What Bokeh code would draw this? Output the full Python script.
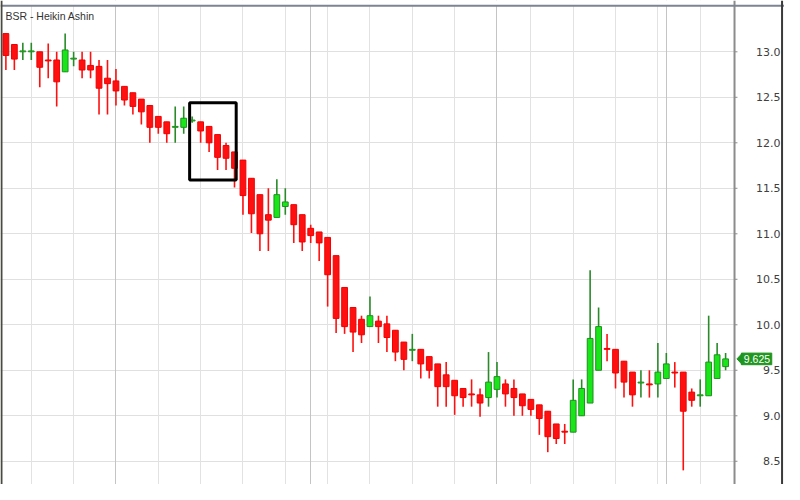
from bokeh.plotting import figure
from bokeh.models import (ColumnDataSource, FixedTicker, Grid, Label,
                          BoxAnnotation, Span, Range1d)
from bokeh.embed import file_html
from bokeh.resources import INLINE

# ---------------- data ----------------
title_text = "BSR - Heikin Ashin"

opens = [13.20, 13.08, 13.00, 13.00, 13.00, 12.91, 12.91, 12.78, 12.92, 12.91,
         12.85, 12.84, 12.71, 12.68, 12.62, 12.55, 12.48, 12.41, 12.29, 12.23,
         12.17, 12.17, 12.24, 12.23, 12.18, 12.09, 11.97, 11.90, 11.81, 11.61,
         11.43, 11.21, 11.18, 11.30, 11.32, 11.21, 11.06, 11.02, 10.96, 10.76,
         10.41, 10.19, 10.06, 9.98, 10.04, 10.01, 9.94, 9.81, 9.72, 9.73,
         9.65, 9.57, 9.45, 9.39, 9.30, 9.24, 9.23, 9.20, 9.29, 9.35,
         9.30, 9.24, 9.18, 9.12, 9.05, 8.91, 8.83, 8.82, 9.00, 9.14,
         9.50, 9.74, 9.73, 9.60, 9.48, 9.36, 9.35, 9.35, 9.41, 9.48,
         9.48, 9.26, 9.22, 9.22, 9.41, 9.54]
highs = [13.20, 13.08, 13.10, 13.10, 13.00, 13.09, 13.00, 13.20, 13.00, 13.00,
         13.00, 12.91, 12.91, 12.81, 12.62, 12.55, 12.48, 12.41, 12.29, 12.23,
         12.40, 12.40, 12.29, 12.23, 12.18, 12.09, 12.00, 11.90, 11.81, 11.61,
         11.43, 11.50, 11.60, 11.50, 11.32, 11.21, 11.10, 11.02, 10.96, 10.76,
         10.41, 10.19, 10.10, 10.31, 10.10, 10.10, 9.94, 9.81, 9.90, 9.73,
         9.65, 9.57, 9.59, 9.39, 9.30, 9.40, 9.30, 9.70, 9.59, 9.40,
         9.40, 9.24, 9.18, 9.12, 9.05, 8.91, 8.91, 9.40, 9.40, 10.60,
         10.19, 9.90, 9.73, 9.60, 9.48, 9.50, 9.50, 9.80, 9.69, 9.59,
         9.48, 9.30, 9.40, 10.10, 9.80, 9.69]
lows = [12.80, 12.80, 12.91, 12.91, 12.61, 12.71, 12.40, 12.78, 12.84, 12.71,
        12.71, 12.31, 12.31, 12.41, 12.41, 12.31, 12.20, 12.00, 12.10, 12.00,
        12.00, 12.10, 12.22, 12.00, 11.90, 11.70, 11.70, 11.51, 11.21, 11.01,
        10.81, 10.81, 11.18, 11.21, 10.90, 10.81, 10.90, 10.70, 10.20, 9.91,
        9.90, 9.70, 9.80, 9.98, 9.80, 9.70, 9.60, 9.50, 9.60, 9.41,
        9.41, 9.10, 9.10, 9.01, 9.10, 9.10, 8.99, 9.10, 9.20, 9.10,
        9.00, 9.00, 9.00, 8.79, 8.60, 8.69, 8.69, 8.82, 9.00, 9.14,
        9.50, 9.60, 9.30, 9.20, 9.10, 9.20, 9.20, 9.20, 9.41, 9.31,
        8.40, 9.10, 9.10, 9.22, 9.41, 9.50]
closes = [12.96, 12.92, 13.01, 13.01, 12.83, 12.90, 12.67, 13.02, 12.93, 12.80,
          12.80, 12.60, 12.65, 12.57, 12.47, 12.40, 12.34, 12.17, 12.17, 12.10,
          12.18, 12.27, 12.25, 12.13, 12.00, 11.84, 11.83, 11.72, 11.42, 11.22,
          11.00, 11.15, 11.43, 11.35, 11.10, 10.91, 10.98, 10.90, 10.55, 10.07,
          9.98, 9.92, 9.89, 10.10, 9.98, 9.86, 9.70, 9.62, 9.73, 9.57,
          9.50, 9.32, 9.32, 9.22, 9.20, 9.23, 9.14, 9.37, 9.43, 9.24,
          9.20, 9.11, 9.07, 8.97, 8.77, 8.75, 8.82, 9.17, 9.30, 9.85,
          9.98, 9.73, 9.47, 9.37, 9.23, 9.37, 9.34, 9.48, 9.57, 9.47,
          9.05, 9.17, 9.23, 9.59, 9.67, 9.625]

week_ticks = [3, 8, 13, 18, 23, 28, 33, 38, 43, 48, 53, 58, 62, 67, 72, 77, 82]
month_ticks = [13, 36, 58, 78]
price_ticks = [8.5, 9.0, 9.5, 10.0, 10.5, 11.0, 11.5, 12.0, 12.5, 13.0]
price_labels = ["8.5", "9.0", "9.5", "10.0", "10.5",
                "11.0", "11.5", "12.0", "12.5", "13.0"]
box_left, box_right, box_top, box_bottom = 21.7, 27.2, 12.44, 11.59
last_price = closes[-1]
last_label = "9.625"

# ---------------- layout helpers (reference-pixel geometry) ----------------
X0_PX, DX_PX = 5.5, 8.64      # centre of first candle, candle spacing
Y13_PX, DY_PX = 53.0, 94.0    # pixel row of 13.0, pixels per 1.0


def xi(px):
    return (px - X0_PX) / DX_PX


def yv(py):
    return 13.0 - (py - Y13_PX) / DY_PX


def dx(px):
    return px / DX_PX


def dy(px):
    return px / DY_PX


x_start, x_end = xi(0), xi(800)
y_start, y_end = yv(500), yv(0)
axis_x = xi(749)
label_right = xi(796)
top_border = yv(5.5)

RED_FILL, RED_LINE = "#ff1010", "#f00000"
GRN_FILL, GRN_LINE, GRN_WICK = "#19e619", "#1f8f1f", "#2a8a2a"
TAG = "#1f961f"
FONT = "Liberation Sans"
AXIS_FONT = "DejaVu Sans"

idx = list(range(len(opens)))
up = [c >= o for o, c in zip(opens, closes)]
src = ColumnDataSource(dict(
    x=idx, high=highs, low=lows,
    top=[max(o, c) for o, c in zip(opens, closes)],
    bottom=[min(o, c) for o, c in zip(opens, closes)],
    fill=[GRN_FILL if u else RED_FILL for u in up],
    line=[GRN_LINE if u else RED_LINE for u in up],
    wick=[GRN_WICK if u else RED_FILL for u in up],
))

W, H = 784, 484
p = figure(width=W, height=H,
           x_range=Range1d(x_start, x_end), y_range=Range1d(y_start, y_end),
           x_axis_location=None, y_axis_location=None,
           toolbar_location=None, output_backend="svg",
           min_border=0)
p.outline_line_color = None
p.background_fill_color = "white"
p.border_fill_color = "white"
p.xgrid.visible = False
p.ygrid.visible = False

p.add_layout(Grid(dimension=1, ticker=FixedTicker(ticks=price_ticks),
                  grid_line_color="#e0e0e0"), "center")
p.add_layout(Grid(dimension=0, ticker=FixedTicker(ticks=week_ticks),
                  grid_line_color="#e2e2e2"), "center")
p.add_layout(Grid(dimension=0, ticker=FixedTicker(ticks=month_ticks),
                  grid_line_color="#c4c4c4"), "center")

# blank the price-scale strip and the strip above the chart border
p.quad(left=[axis_x, x_start], right=[x_end, x_end],
       bottom=[y_start, top_border], top=[y_end, y_end],
       fill_color="white", line_color=None)

# candles
p.segment(x0="x", y0="low", x1="x", y1="high", source=src,
          line_color="wick", line_width=1.6)
p.vbar(x="x", width=0.68, top="top", bottom="bottom", source=src,
       fill_color="fill", line_color="line", line_width=1)

# price scale (right): tick marks and right-aligned labels
p.segment(x0=[axis_x] * len(price_ticks), y0=price_ticks,
          x1=[axis_x + dx(3)] * len(price_ticks), y1=price_ticks,
          line_color="#8c8c8c", line_width=1)
for tick, lab in zip(price_ticks, price_labels):
    p.add_layout(Label(x=label_right, y=tick, text=lab,
                       text_font=AXIS_FONT, text_font_size="11px",
                       text_color="#404040", text_align="right",
                       text_baseline="middle"))

# last price tag
p.patch(x=[axis_x + dx(2.5), axis_x + dx(8), axis_x + dx(8)],
        y=[last_price, last_price + dy(6), last_price - dy(6)],
        fill_color=TAG, line_color=TAG)
p.quad(left=[axis_x + dx(7)], right=[axis_x + dx(38)],
       bottom=[last_price - dy(6)], top=[last_price + dy(6)],
       fill_color=TAG, line_color=TAG)
p.add_layout(Label(x=axis_x + dx(9.5), y=last_price, text=last_label,
                   text_font=FONT, text_font_size="10.5px",
                   text_color="white", text_align="left",
                   text_baseline="middle"))

# frame lines
p.add_layout(Span(location=axis_x, dimension="height",
                  line_color="#8c8c8c", line_width=2))
p.add_layout(Span(location=top_border, dimension="width",
                  line_color="#7d8592", line_width=2))
p.add_layout(Span(location=xi(1), dimension="height",
                  line_color="#4a4a40", line_width=2))
p.add_layout(Span(location=xi(797.5), dimension="height",
                  line_color="#3a3a3a", line_width=2))

# highlight box
p.add_layout(BoxAnnotation(left=box_left, right=box_right, top=box_top,
                           bottom=box_bottom, fill_alpha=0,
                           line_color="black", line_alpha=1, line_width=3))

p.add_layout(Label(x=xi(5), y=yv(9.5), text=title_text, text_font=FONT,
                   text_font_size="10.5px", text_color="#333333",
                   text_baseline="top", text_align="left"))

open("out.html", "w").write(file_html(p, INLINE))
